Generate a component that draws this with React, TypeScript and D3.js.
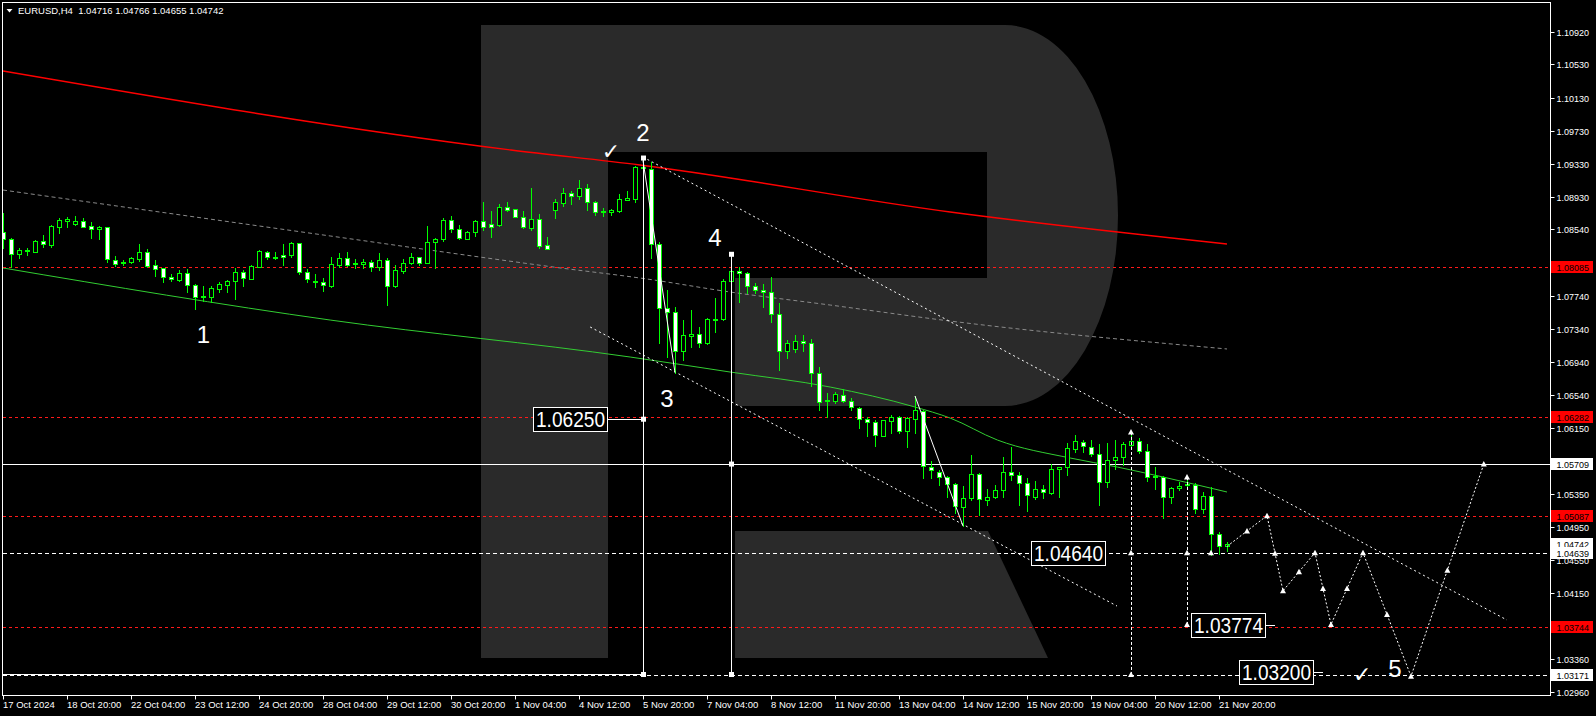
import React from 'react';
import * as d3 from 'd3';

// ---------- DATA ----------
const opens = [
  1.08505,1.08420,1.08239,1.08275,1.08271,1.08400,1.08355,1.08572,1.08644,1.08608,
  1.08641,1.08580,1.08541,1.08565,1.08170,1.08131,1.08150,1.08186,1.08263,1.08110,
  1.08070,1.07965,1.07929,1.08010,1.07865,1.07721,1.07721,1.07817,1.07873,1.07913,
  1.08026,1.07945,1.08090,1.08267,1.08195,1.08231,1.08227,1.08371,1.08029,1.07902,
  1.07902,1.07857,1.08110,1.08191,1.08126,1.08126,1.08143,1.08090,1.08170,1.07857,
  1.08041,1.08131,1.08203,1.08138,1.08384,1.08420,1.08649,1.08548,1.08428,1.08505,
  1.08637,1.08601,1.08597,1.08806,1.08782,1.08693,1.08560,1.08661,1.08348,1.08773,
  1.08862,1.08975,1.08946,1.09035,1.08874,1.08753,1.08749,1.08761,1.08898,1.08906,
  1.09280,1.09268,1.08360,1.07588,1.07540,1.07077,1.07258,1.07278,1.07166,1.07451,
  1.07455,1.07913,1.08034,1.08010,1.07853,1.07805,1.07781,1.07516,1.07077,1.07101,
  1.07190,1.07166,1.06804,1.06466,1.06474,1.06539,1.06466,1.06382,1.06249,1.06213,
  1.06052,1.06225,1.06277,1.06112,1.06257,1.06353,1.05678,1.05618,1.05550,1.05465,
  1.05192,1.05300,1.05590,1.05276,1.05309,1.05397,1.05610,1.05578,1.05477,1.05309,
  1.05405,1.05365,1.05646,1.05670,1.05895,1.05972,1.05919,1.05827,1.05489,1.05754,
  1.05791,1.05939,1.05988,1.05863,1.05550,1.05558,1.05309,1.05421,1.05457,1.05457,
  1.05164,1.05324,1.04862,1.04716,
];
const highs = [
  1.08734,1.08432,1.08319,1.08312,1.08406,1.08472,1.08593,1.08673,1.08693,1.08701,
  1.08673,1.08632,1.08580,1.08570,1.08219,1.08170,1.08203,1.08363,1.08303,1.08170,
  1.08078,1.07998,1.08050,1.08062,1.07881,1.07857,1.07857,1.07909,1.07929,1.08070,
  1.08050,1.08110,1.08291,1.08279,1.08267,1.08363,1.08391,1.08379,1.08058,1.08002,
  1.07950,1.08203,1.08251,1.08267,1.08182,1.08182,1.08170,1.08251,1.08191,1.08110,
  1.08179,1.08251,1.08210,1.08580,1.08432,1.08673,1.08701,1.08589,1.08524,1.08653,
  1.08870,1.08761,1.08846,1.08866,1.08789,1.08761,1.09039,1.08725,1.08444,1.08902,
  1.09039,1.09007,1.09131,1.09086,1.08886,1.08794,1.08789,1.08966,1.08999,1.09304,
  1.09370,1.09349,1.08384,1.07809,1.07607,1.07447,1.07567,1.07363,1.07475,1.07716,
  1.07938,1.08219,1.08090,1.08029,1.07889,1.07881,1.07969,1.07655,1.07206,1.07266,
  1.07262,1.07218,1.06884,1.06563,1.06575,1.06611,1.06506,1.06402,1.06281,1.06241,
  1.06241,1.06301,1.06289,1.06281,1.06530,1.06361,1.05751,1.05638,1.05566,1.05477,
  1.05449,1.05823,1.05602,1.05405,1.05457,1.05795,1.05915,1.05618,1.05538,1.05505,
  1.05457,1.05711,1.05678,1.05960,1.06060,1.06000,1.06000,1.05951,1.05960,1.06000,
  1.05980,1.06072,1.06020,1.05951,1.05670,1.05566,1.05437,1.05489,1.05550,1.05477,
  1.05377,1.05437,1.04886,1.04766,
];
const lows = [
  1.08312,1.08090,1.08191,1.08231,1.08267,1.08331,1.08324,1.08500,1.08572,1.08593,
  1.08565,1.08439,1.08424,1.08150,1.08102,1.08110,1.08138,1.08162,1.08090,1.07977,
  1.07909,1.07917,1.07921,1.07781,1.07583,1.07680,1.07668,1.07781,1.07788,1.07696,
  1.07860,1.07938,1.08082,1.08186,1.08179,1.08110,1.08203,1.08002,1.07909,1.07848,
  1.07800,1.07848,1.08090,1.08098,1.08078,1.08078,1.08041,1.08050,1.07628,1.07841,
  1.08010,1.08122,1.08110,1.08131,1.08070,1.08403,1.08512,1.08420,1.08420,1.08460,
  1.08532,1.08451,1.08580,1.08765,1.08690,1.08560,1.08532,1.08319,1.08297,1.08677,
  1.08822,1.08846,1.08906,1.08773,1.08713,1.08705,1.08717,1.08749,1.08894,1.08874,
  1.09256,1.08198,1.07166,1.07005,1.06811,1.06964,1.07121,1.07117,1.07153,1.07306,
  1.07443,1.07809,1.07668,1.07776,1.07769,1.07600,1.07426,1.06844,1.06985,1.07061,
  1.07069,1.06649,1.06361,1.06273,1.06442,1.06454,1.06361,1.06148,1.06052,1.05931,
  1.06048,1.06088,1.06088,1.05919,1.06088,1.05541,1.05538,1.05457,1.05316,1.05115,
  1.04962,1.05276,1.05095,1.05216,1.05300,1.05309,1.05518,1.05216,1.05148,1.05288,
  1.05300,1.05349,1.05316,1.05578,1.05859,1.05859,1.05807,1.05216,1.05429,1.05654,
  1.05698,1.05919,1.05847,1.05509,1.05405,1.05055,1.05244,1.05397,1.05437,1.05123,
  1.05123,1.04613,1.04620,1.04655,
];
const closes = [
  1.08420,1.08239,1.08291,1.08291,1.08400,1.08360,1.08580,1.08653,1.08668,1.08641,
  1.08572,1.08541,1.08568,1.08179,1.08119,1.08146,1.08195,1.08267,1.08102,1.08058,
  1.07969,1.07938,1.08010,1.07865,1.07728,1.07740,1.07833,1.07881,1.07913,1.08022,
  1.07950,1.08098,1.08279,1.08203,1.08203,1.08203,1.08375,1.08029,1.07938,1.07917,
  1.07865,1.08119,1.08191,1.08110,1.08138,1.08146,1.08090,1.08170,1.07857,1.08050,
  1.08131,1.08203,1.08138,1.08384,1.08420,1.08649,1.08541,1.08432,1.08508,1.08637,
  1.08572,1.08572,1.08806,1.08777,1.08693,1.08572,1.08661,1.08339,1.08299,1.08866,
  1.08975,1.08946,1.09035,1.08874,1.08753,1.08761,1.08773,1.08902,1.08914,1.09288,
  1.09296,1.08360,1.07588,1.07540,1.07077,1.07262,1.07278,1.07166,1.07459,1.07459,
  1.07913,1.08034,1.08010,1.07857,1.07809,1.07781,1.07516,1.07077,1.07166,1.07190,
  1.07166,1.06804,1.06462,1.06482,1.06551,1.06466,1.06394,1.06249,1.06213,1.06056,
  1.06237,1.06277,1.06112,1.06269,1.06361,1.05686,1.05638,1.05550,1.05465,1.05204,
  1.05300,1.05590,1.05288,1.05309,1.05397,1.05614,1.05578,1.05477,1.05333,1.05405,
  1.05369,1.05650,1.05670,1.05899,1.05988,1.05927,1.05827,1.05489,1.05758,1.05791,
  1.05951,1.05988,1.05863,1.05550,1.05566,1.05309,1.05425,1.05449,1.05465,1.05164,
  1.05324,1.04862,1.04721,1.04742,
];

const dateLabels = [
  '17 Oct 2024','18 Oct 20:00','22 Oct 04:00','23 Oct 12:00','24 Oct 20:00',
  '28 Oct 04:00','29 Oct 12:00','30 Oct 20:00','1 Nov 04:00','4 Nov 12:00',
  '5 Nov 20:00','7 Nov 04:00','8 Nov 12:00','11 Nov 20:00','13 Nov 04:00',
  '14 Nov 12:00','15 Nov 20:00','19 Nov 04:00','20 Nov 12:00','21 Nov 20:00',
];
const dateLabelBars = [0,8,16,24,32,40,48,56,64,72,80,88,96,104,112,120,128,136,144,152];

const priceTickLabels = [
  '1.10920','1.10530','1.10130','1.09730','1.09330','1.08930','1.08540','1.08140',
  '1.07740','1.07340','1.06940','1.06540','1.06150','1.05750','1.05350','1.04950',
  '1.04550','1.04150','1.03750','1.03360','1.02960',
];

const redLevels = [1.08085, 1.06282, 1.05087, 1.03744];
const solidLevel = 1.05709;
const dashedLevels = [1.04639, 1.03171];
const lastPrice = 1.04742;

// indicator lines (bar index, price)
const redLineBars = [0, 63.5, 79.6, 118.4, 153];
const redLineValues = [1.10450, 1.09497, 1.09316, 1.08749, 1.08363];
const greenLineBars = [0, 40.9, 78.4, 90.9, 103.4, 114, 118.4, 124.3, 133.4, 139.3, 145, 153];
const greenLineValues = [1.08074, 1.07446, 1.07000, 1.06819, 1.06638, 1.06397, 1.06264, 1.05999, 1.05782, 1.05673, 1.05553, 1.05372];
const grayLineBars = [0, 40.9, 59.6, 68.75, 80.5, 90.9, 103.4, 118.4, 153];
const grayLineValues = [1.09014, 1.08460, 1.08206, 1.08086, 1.07941, 1.07784, 1.07627, 1.07434, 1.07097];

// channel trend lines
const upperChannelBars = [80, 188];
const upperChannelValues = [1.09412, 1.03828];
const lowerChannelBars = [73.4, 139.25];
const lowerChannelValues = [1.07362, 1.03997];

// wave lines
const waveLineA = [[80, 1.09370], [84, 1.06811]];
const waveLineB = [[114, 1.06530], [120, 1.04962]];

// forecast path
const forecastBars = [153, 158, 160, 164, 166, 170, 176, 185.1];
const forecastValues = [1.04716, 1.05087, 1.04180, 1.04640, 1.03774, 1.04640, 1.03150, 1.05709];

// vertical measurement tools
const vToolBars = [80, 91];
const vToolTop = [1.09400, 1.08239];
const vToolMid = [1.06250, 1.05709];
const vToolBottom = 1.03171;

// vertical dashed projections
const vDashBars = [141, 148];
const vDashTop = [1.06096, 1.05553];
const vDashBottom = [1.03171, 1.03774];

// price boxes
const boxTexts = ['1.06250', '1.04640', '1.03774', '1.03200'];
const boxValues = [1.06250, 1.04640, 1.03774, 1.03200];
const boxRightBars = [75.5, 137.75, 157.75, 163.75];
const boxLineToBars = [80, 137.75, 159, 165];

// wave numbers
const waveTexts = ['1', '2', '3', '4', '5'];
const waveBars = [25.06, 80, 83, 89, 174];
const waveValues = [1.07278, 1.09714, 1.06506, 1.08447, 1.03249];
const checkBars = [76, 169.9];
const checkValues = [1.09485, 1.03177];

// ---------- CHART ----------
const W = 1596;
const H = 716;
const PR = 1550.5; // plot right
const PB = 695.5; // plot bottom

export default function App() {
  const x = d3.scaleLinear().domain([0, 190]).range([3, 3 + 8 * 190]);
  const y = d3.scaleLinear().domain([1.10920, 1.02960]).range([32, 692]);
  const ry = (v: number) => Math.round(y(v)) + 0.5;
  const line = d3.line<[number, number]>().x(d => x(d[0])).y(d => y(d[1]));
  const curve = d3.line<[number, number]>().x(d => x(d[0])).y(d => y(d[1])).curve(d3.curveMonotoneX);
  const zip = (a: number[], b: number[]) => a.map((v, i) => [v, b[i]] as [number, number]);

  const forecastPts = zip(forecastBars, forecastValues);
  const markerPts: [number, number][] = [];
  for (let i = 1; i < forecastPts.length; i++) {
    const a = forecastPts[i - 1], b = forecastPts[i];
    markerPts.push([(x(a[0]) + x(b[0])) / 2, (y(a[1]) + y(b[1])) / 2]);
    markerPts.push([x(b[0]), y(b[1])]);
  }
  const extraMarkers: [number, number][] = [];
  vDashBars.forEach((b, i) => {
    extraMarkers.push([x(b), y(vDashTop[i])]);
    extraMarkers.push([x(b), y(dashedLevels[0])]);
    extraMarkers.push([x(b), y(vDashBottom[i])]);
  });
  extraMarkers.push([x(151), y(dashedLevels[0])]);

  const arrow = (cx: number, cy: number, k: string) => (
    <polygon key={k} points={`${cx - 3},${cy + 2.5} ${cx + 3},${cy + 2.5} ${cx},${cy - 3}`} fill="#fff" />
  );

  const axisFont = '"Liberation Sans", Arial, sans-serif';
  const boxLevels = [...redLevels, solidLevel, lastPrice, ...dashedLevels];
  const hiddenTick = (v: number) => boxLevels.some(b => Math.abs(y(b) - y(v)) < 6);

  return (
    <svg width={W} height={H} style={{ position: 'absolute', left: 0, top: 0, background: '#000' }}
      xmlns="http://www.w3.org/2000/svg">
      <defs>
        <clipPath id="plot"><rect x={3} y={3} width={PR - 3} height={PB - 3} /></clipPath>
      </defs>
      <rect x={0} y={0} width={W} height={H} fill="#000" />

      <g clipPath="url(#plot)">
        {/* watermark R */}
        <path d="M481,25 H1005 A113,190.5 0 0 1 1005,406 H735 V278 H987 V152 H608 V658 H481 Z" fill="#2a2a2a" />
        <path d="M735,531 H988 L1048,658 H735 Z" fill="#2a2a2a" />

        {/* indicator lines */}
        <path d={curve(zip(grayLineBars, grayLineValues)) || ''} fill="none" stroke="#8a8a8a" strokeWidth={1} strokeDasharray="4,3" />
        <path d={curve(zip(redLineBars, redLineValues)) || ''} fill="none" stroke="#ff0000" strokeWidth={1.4} />
        <path d={curve(zip(greenLineBars, greenLineValues)) || ''} fill="none" stroke="#32cd32" strokeWidth={1} />

        {/* horizontal levels */}
        {redLevels.map((v, i) => (
          <line key={'rl' + i} x1={3} x2={PR} y1={ry(v)} y2={ry(v)} stroke="#ff1a1a" strokeDasharray="3,3" />
        ))}
        <line x1={3} x2={PR} y1={ry(solidLevel)} y2={ry(solidLevel)} stroke="#fff" />
        {dashedLevels.map((v, i) => (
          <line key={'wl' + i} x1={3} x2={PR} y1={ry(v)} y2={ry(v)} stroke="#fff" strokeDasharray="4,3" />
        ))}
        <line x1={3} x2={x(vToolBars[0])} y1={ry(vToolBottom) - 1} y2={ry(vToolBottom) - 1} stroke="#fff" />

        {/* channel lines */}
        <path d={line(zip(upperChannelBars, upperChannelValues)) || ''} fill="none" stroke="#fff" strokeDasharray="2,3" />
        <path d={line(zip(lowerChannelBars, lowerChannelValues)) || ''} fill="none" stroke="#fff" strokeDasharray="2,3" />

        {/* candles */}
        {opens.map((o, i) => {
          const c = closes[i];
          const cx = Math.round(x(i));
          const bull = c > o;
          const top = Math.round(y(Math.max(o, c)));
          const bot = Math.round(y(Math.min(o, c)));
          const h = bot - top;
          return (
            <g key={'c' + i} shapeRendering="crispEdges">
              <line x1={cx + 0.5} x2={cx + 0.5} y1={Math.round(y(highs[i]))} y2={Math.round(y(lows[i])) + 1} stroke="#00ff00" />
              {h >= 1 ? (
                <rect x={cx - 1.5} y={top + 0.5} width={4} height={h} fill={bull ? '#000' : '#fff'} stroke="#00ff00" />
              ) : (
                <line x1={cx - 2} x2={cx + 3} y1={top + 0.5} y2={top + 0.5} stroke="#00ff00" />
              )}
            </g>
          );
        })}

        {/* wave lines */}
        <path d={line(waveLineA as [number, number][]) || ''} fill="none" stroke="#fff" strokeWidth={1} />
        <path d={line(waveLineB as [number, number][]) || ''} fill="none" stroke="#fff" strokeWidth={1} />

        {/* vertical measurement tools */}
        {vToolBars.map((b, i) => {
          const vx = Math.round(x(b)) + 0.5;
          return (
            <g key={'vt' + i}>
              <line x1={vx} x2={vx} y1={y(vToolTop[i])} y2={y(vToolBottom)} stroke="#fff" />
              {[vToolTop[i], vToolMid[i], vToolBottom].map((v, j) => (
                <rect key={j} x={vx - 2.5} y={y(v) - 2.5} width={5} height={5} fill="#fff" />
              ))}
            </g>
          );
        })}

        {/* vertical dashed projections */}
        {vDashBars.map((b, i) => {
          const vx = Math.round(x(b)) + 0.5;
          return <line key={'vd' + i} x1={vx} x2={vx} y1={y(vDashTop[i])} y2={y(vDashBottom[i])} stroke="#fff" strokeDasharray="3,2" />;
        })}

        {/* forecast path */}
        <path d={line(forecastPts) || ''} fill="none" stroke="#fff" strokeDasharray="2,2" />
        {markerPts.map((p, i) => arrow(p[0], p[1], 'm' + i))}
        {extraMarkers.map((p, i) => arrow(p[0], p[1], 'e' + i))}

        {/* price boxes */}
        {boxTexts.map((t, i) => {
          const right = x(boxRightBars[i]);
          const cy = y(boxValues[i]);
          const left = right - 74;
          return (
            <g key={'b' + i}>
              <line x1={right} x2={x(boxLineToBars[i])} y1={Math.round(cy) + 0.5} y2={Math.round(cy) + 0.5} stroke="#fff" />
              <rect x={Math.round(left) + 0.5} y={Math.round(cy - 12) + 0.5} width={74} height={24} fill="#000" stroke="#fff" />
              <text x={left + 3} y={cy + 8} fill="#fff" fontFamily="Arial, 'Liberation Sans', sans-serif" fontSize={22}
                textLength={69} lengthAdjust="spacingAndGlyphs">{t}</text>
            </g>
          );
        })}

        {/* wave numbers */}
        {waveTexts.map((t, i) => (
          <text key={'w' + i} x={x(waveBars[i])} y={y(waveValues[i]) + 9} fill="#fff" fontSize={24}
            fontFamily="Arial, 'Liberation Sans', sans-serif" textAnchor="middle">{t}</text>
        ))}
        {checkBars.map((b, i) => (
          <text key={'ck' + i} x={x(b)} y={y(checkValues[i]) + 8} fill="#fff" fontSize={22}
            fontFamily="'DejaVu Sans', sans-serif" textAnchor="middle">✓</text>
        ))}
      </g>

      {/* frame */}
      <rect x={2.5} y={2.5} width={PR - 2.5} height={PB - 2.5} fill="none" stroke="#fff" shapeRendering="crispEdges" />

      {/* header */}
      <polygon points="6.5,9 12.5,9 9.5,12.5" fill="#fff" />
      <text x={18} y={14} fill="#fff" fontSize={9.5} fontFamily={axisFont} style={{ whiteSpace: 'pre' }}>
        {'EURUSD,H4  1.04716 1.04766 1.04655 1.04742'}
      </text>

      {/* right axis */}
      <g fontFamily={axisFont} fontSize={9}>
        {priceTickLabels.map((t, i) => {
          const ty = Math.round(y(+t)) + 0.5;
          return (
            <g key={'yt' + i}>
              <line x1={PR} x2={PR + 4} y1={ty} y2={ty} stroke="#fff" />
              {!hiddenTick(+t) && <text x={1556.5} y={ty + 3.5} fill="#fff">{t}</text>}
            </g>
          );
        })}
        {redLevels.map((v, i) => {
          const ty = Math.round(y(v));
          return (
            <g key={'ry' + i}>
              <rect x={1551} y={ty - 6} width={42} height={12} fill="#ff0000" />
              <text x={1556.5} y={ty + 4} fill="#000">{v.toFixed(5)}</text>
            </g>
          );
        })}
        {[solidLevel, lastPrice, dashedLevels[0], dashedLevels[1]].map((v, i) => {
          const ty = Math.round(y(v));
          return (
            <g key={'wy' + i}>
              <rect x={1551} y={ty - 6} width={42} height={12} fill="#fff" />
              <text x={1556.5} y={ty + 4} fill="#000">{v.toFixed(5)}</text>
            </g>
          );
        })}
      </g>

      {/* bottom axis */}
      <g fontFamily={axisFont} fontSize={9.5}>
        {dateLabels.map((t, i) => {
          const tx = Math.round(x(dateLabelBars[i]));
          return (
            <g key={'xt' + i}>
              <line x1={tx + 0.5} x2={tx + 0.5} y1={PB} y2={PB + 4} stroke="#fff" />
              <text x={tx} y={708} fill="#fff">{t}</text>
            </g>
          );
        })}
      </g>
    </svg>
  );
}
